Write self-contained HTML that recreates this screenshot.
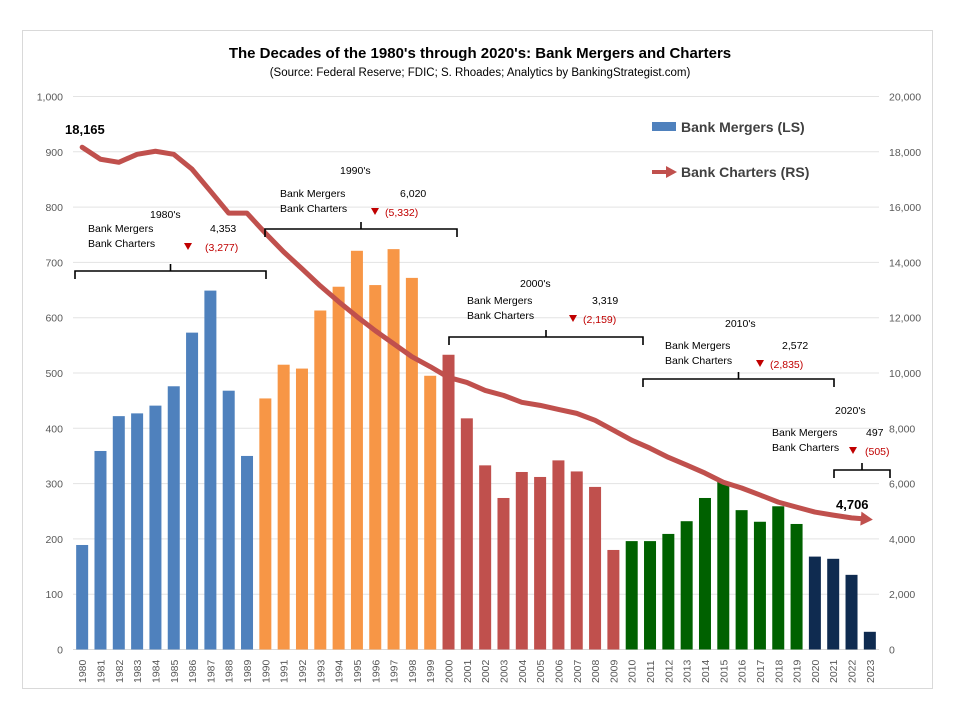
<!DOCTYPE html>
<html><head><meta charset="utf-8"><style>
body{margin:0;background:#fff;}
svg{display:block;font-family:"Liberation Sans",sans-serif;}
</style></head><body>
<svg id="chart" width="960" height="720" viewBox="0 0 960 720">
<rect x="22.5" y="30.5" width="910" height="658" fill="#fff" stroke="#d9d9d9"/>
<text x="480" y="58" text-anchor="middle" font-size="15" font-weight="bold" fill="#000">The Decades of the 1980's through 2020's: Bank Mergers and Charters</text>
<text x="480" y="76" text-anchor="middle" font-size="11.5" fill="#000">(Source: Federal Reserve; FDIC; S. Rhoades; Analytics by BankingStrategist.com)</text>
<g id="grid"></g><g id="bars"></g><g id="line"></g><g id="axes"></g>
<g>
<rect x="652" y="122" width="24" height="9" fill="#4f81bd"/>
<text x="681" y="132" font-size="14" font-weight="bold" fill="#404040">Bank Mergers (LS)</text>
<line x1="652" y1="172" x2="668" y2="172" stroke="#c0504d" stroke-width="4"/>
<polygon points="666,166 677,172 666,178" fill="#c0504d"/>
<text x="681" y="177" font-size="14" font-weight="bold" fill="#404040">Bank Charters (RS)</text>
</g>
<text x="65" y="134" font-size="13" font-weight="bold" fill="#000">18,165</text>
<text x="836" y="509" font-size="13" font-weight="bold" fill="#000">4,706</text>
<g id="ann"></g>
</svg>
<script>
const years=[];for(let y=1980;y<=2023;y++)years.push(String(y));
const mergers=[189,359,422,427,441,476,573,649,468,350,454,515,508,613,656,721,659,724,672,495,533,418,333,274,321,312,342,322,294,180,196,196,209,232,274,303,252,231,259,227,168,164,135,32];
const charters=[18165,17730,17620,17910,18020,17910,17370,16580,15780,15780,15060,14380,13770,13150,12580,12040,11530,11060,10590,10230,9840,9660,9370,9190,8940,8830,8680,8540,8290,7930,7570,7280,6950,6670,6380,6050,5840,5590,5330,5150,4970,4860,4760,4706];
const leftTicks=[0,100,200,300,400,500,600,700,800,900,1000];
const rightTickLabels=["0","2,000","4,000","6,000","8,000","10,000","12,000","14,000","16,000","18,000","20,000"];
const decades=["1980's","1990's","2000's","2010's","2020's"];
const decadeMergers=["4,353","6,020","3,319","2,572","497"];
const decadeCharters=["(3,277)","(5,332)","(2,159)","(2,835)","(505)"];
const colors=["#4f81bd","#f79646","#c0504d","#006100","#0f2b50"];
const NS="http://www.w3.org/2000/svg";
const L=73,R=879,Y0=649.5,Y1=96.5;
const band=(R-L)/years.length;
const xc=i=>L+band*(i+0.5);
const yl=v=>Y0-(Y0-Y1)*v/1000;
const yr=v=>Y0-(Y0-Y1)*v/20000;
function mk(tag,attrs,parent){const e=document.createElementNS(NS,tag);for(const k in attrs)e.setAttribute(k,attrs[k]);parent.appendChild(e);return e;}
const grid=document.getElementById('grid'),axes=document.getElementById('axes');
leftTicks.forEach((t,i)=>{
 const g=mk('line',{x1:L,x2:R,y1:yl(t),y2:yl(t),stroke:t===0?'#d9d9d9':'#e3e3e3','stroke-width':1},grid);
 
 const a=mk('text',{x:63,y:yl(t)+4,'text-anchor':'end','font-size':10.5,fill:'#595959'},axes);a.textContent=t===1000?'1,000':String(t);
 
 const b=mk('text',{x:889,y:yl(t)+4,'font-size':10.5,fill:'#595959'},axes);b.textContent=rightTickLabels[i];
 
});
const bars=document.getElementById('bars');
mergers.forEach((v,i)=>{
 const d=Math.min(4,Math.floor(i/10));
 const r=mk('rect',{x:xc(i)-6,y:yl(v),width:12,height:Y0-yl(v),fill:colors[d]},bars);
 
 const t=mk('text',{transform:`translate(${xc(i)+4},683) rotate(-90)`,'font-size':10.5,fill:'#595959'},axes);t.textContent=years[i];
 
});
const lg=document.getElementById('line');
const n=charters.length;
const pts=charters.map((v,i)=>[xc(i),yr(v)]);
const last=pts[n-1],prev=pts[n-2];
const ang=Math.atan2(last[1]-prev[1],last[0]-prev[0]);
const tip=[last[0]+3*Math.cos(ang),last[1]+3*Math.sin(ang)];
const base=[tip[0]-12*Math.cos(ang),tip[1]-12*Math.sin(ang)];
const linePts=pts.slice(0,n-1).concat([base]);
const pl=mk('polyline',{points:linePts.map(p=>p.join(',')).join(' '),fill:'none',stroke:'#c0504d','stroke-width':5,'stroke-linejoin':'round','stroke-linecap':'round'},lg);

const px=-Math.sin(ang),py=Math.cos(ang);
const ar=mk('polygon',{points:`${tip[0]},${tip[1]} ${base[0]+7*px},${base[1]+7*py} ${base[0]-7*px},${base[1]-7*py}`,fill:'#c0504d'},lg);

// annotations
const ann=document.getElementById('ann');
const A=[
 {x1:75,x2:266,by:271,title:[150,218],tx:88,ty:232,vx:210,tri:188,cx:205},
 {x1:265,x2:457,by:229,title:[340,174],tx:280,ty:197,vx:400,tri:375,cx:385},
 {x1:449,x2:643,by:337,title:[520,287],tx:467,ty:304,vx:592,tri:573,cx:583},
 {x1:643,x2:834,by:379,title:[725,327],tx:665,ty:349,vx:782,tri:760,cx:770},
 {x1:834,x2:890,by:470,title:[835,414],tx:772,ty:436,vx:866,tri:853,cx:865}
];
A.forEach((a,i)=>{
 const g=mk('g',{},ann);
 const c=(a.x1+a.x2)/2;
 const br=mk('path',{d:`M${a.x1},${a.by+8} L${a.x1},${a.by} L${a.x2},${a.by} L${a.x2},${a.by+8} M${c},${a.by} L${c},${a.by-7}`,fill:'none',stroke:'#000','stroke-width':1.6},g);
 
 const tt=mk('text',{x:a.title[0],y:a.title[1],'font-size':10.5,fill:'#000'},g);tt.textContent=decades[i];
 
 const m=mk('text',{x:a.tx,y:a.ty,'font-size':10.5,fill:'#000'},g);m.textContent='Bank Mergers';
 
 const mv=mk('text',{x:a.vx,y:a.ty,'font-size':10.5,fill:'#000'},g);mv.textContent=decadeMergers[i];
 
 const ch=mk('text',{x:a.tx,y:a.ty+15,'font-size':10.5,fill:'#000'},g);ch.textContent='Bank Charters';
 
 const tr=mk('polygon',{points:`${a.tri-4},${a.ty+11} ${a.tri+4},${a.ty+11} ${a.tri},${a.ty+18}`,fill:'#c00000'},g);
 
 const cv=mk('text',{x:a.cx,y:a.ty+19,'font-size':10.5,fill:'#c00000'},g);cv.textContent=decadeCharters[i];
 
});
</script>
</body></html>
